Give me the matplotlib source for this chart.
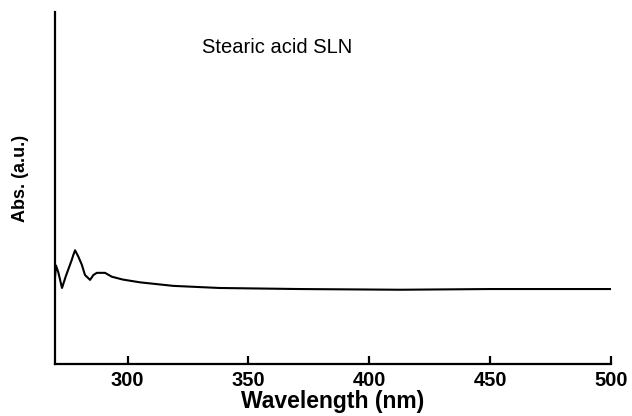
import matplotlib
matplotlib.use("Agg")
import matplotlib.pyplot as plt

plt.rcParams['font.family'] = ['Liberation Sans', 'DejaVu Sans']

# UV-vis spectrum
wavelength = [270.0, 270.4, 271.4, 272.9, 274.5, 276.9, 277.6, 278.3, 279.6, 281.1, 282.4,
              284.5, 285.9, 287.3, 290.7, 293.5, 298.0, 305.2, 318.9, 338.0, 371.0,
              412.9, 450.0, 500.0]
absorb = [0.245, 0.28, 0.26, 0.216, 0.25, 0.295, 0.31, 0.323, 0.306, 0.282, 0.253,
          0.239, 0.253, 0.259, 0.259, 0.248, 0.240, 0.232, 0.222, 0.216, 0.213,
          0.211, 0.213, 0.213]

fig = plt.figure(figsize=(6.32, 4.16), dpi=100)
ax = fig.add_axes([0.087, 0.125, 0.88, 0.846])

ax.plot(wavelength, absorb, color='black', lw=1.5)

ax.set_xlim(270, 500)
ax.set_ylim(0, 1)
ax.set_xticks([300, 350, 400, 450, 500])
ax.set_yticks([])
ax.spines['top'].set_visible(False)
ax.spines['right'].set_visible(False)
ax.spines['left'].set_linewidth(1.6)
ax.spines['bottom'].set_linewidth(1.6)
ax.tick_params(axis='x', direction='in', length=6, width=1.6, labelsize=14.5, pad=5)
for t in ax.get_xticklabels():
    t.set_fontweight('bold')

ax.set_xlabel('Wavelength (nm)', fontsize=16.5, fontweight='bold', labelpad=0)
ax.set_ylabel('Abs. (a.u.)', fontsize=13, fontweight='bold')
ax.yaxis.set_label_coords(-0.046, 0.526)

ax.text(0.265, 0.9, 'Stearic acid SLN', transform=ax.transAxes, fontsize=14.5,
        ha='left', va='center')

fig.savefig('out.png', dpi=100)
